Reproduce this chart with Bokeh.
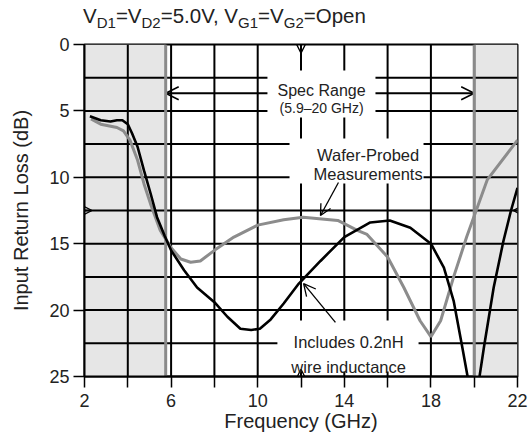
import numpy as np
from bokeh.plotting import figure
from bokeh.layouts import column
from bokeh.models import Range1d, FixedTicker, Label, Arrow, OpenHead, Div
from bokeh.embed import file_html
from bokeh.resources import INLINE

# ---- data ----
freq_incl = [2.25, 2.75, 3.2, 3.5, 3.75, 4.0, 4.2, 4.45, 4.75, 5.05, 5.35, 5.7,
             6.0, 6.6, 7.2, 8.0, 8.6, 9.2, 9.7, 10.1, 10.6, 11.2, 11.9, 12.9,
             14.0, 15.2, 16.1, 17.05, 18.0, 18.6, 19.05, 19.45, 19.75, 20.2,
             20.45, 20.9, 21.35, 21.7, 22.0]
rl_incl = [5.4, 5.7, 5.8, 5.7, 5.7, 6.0, 6.7, 7.7, 9.5, 11.2, 13.0, 14.4,
           15.5, 17.0, 18.3, 19.4, 20.5, 21.4, 21.5, 21.4, 20.7, 19.5, 18.0, 16.3,
           14.5, 13.4, 13.25, 13.8, 15.0, 16.8, 19.3, 22.8, 25.5, 25.5,
           22.8, 18.3, 14.8, 12.5, 10.8]

freq_wafer = [2.3, 2.75, 3.5, 3.8, 4.1, 4.45, 4.75, 5.05, 5.5, 6.0, 6.45, 6.9,
              7.35, 8.0, 8.9, 10.0, 11.2, 12.1, 13.7, 14.6, 15.05, 16.0, 16.75,
              17.5, 18.0, 18.45, 19.05, 19.65, 20.6, 22.0]
rl_wafer = [5.6, 6.0, 6.25, 6.5, 7.2, 8.7, 10.5, 12.0, 14.0, 15.3, 16.15, 16.4,
            16.3, 15.5, 14.5, 13.6, 13.2, 13.0, 13.25, 14.0, 14.3, 16.0, 18.3,
            20.8, 22.0, 20.8, 17.5, 14.5, 10.2, 7.2]

x_ticks = [2, 6, 10, 14, 18, 22]
x_minor = [4, 8, 12, 16, 20]
y_ticks = [0, 5, 10, 15, 20, 25]
x_grid = [4, 6, 8, 10, 12, 14, 16, 18, 20]
y_grid = [2.5, 5, 7.5, 10, 12.5, 15, 17.5, 20, 22.5]
spec_lo, spec_hi = 5.75, 20.0
x_min, x_max = 2, 22
y_min, y_max = 0, 25

FONT = "Liberation Sans"
TXT = "#222222"

title_html = (
    '<div style="padding:6px 0 0 83px; font-family:\'Liberation Sans\'; font-size:20.5px; '
    'line-height:20px; color:#222222; white-space:nowrap;">'
    'V<sub style="font-size:15px">D1</sub>=V<sub style="font-size:15px">D2</sub>=5.0V, '
    'V<sub style="font-size:15px">G1</sub>=V<sub style="font-size:15px">G2</sub>=Open</div>'
)
title = Div(text=title_html, width=528, height=30, margin=(0, 0, 0, 0))

p = figure(width=528, height=408, output_backend="svg", toolbar_location=None,
           x_range=Range1d(x_min, x_max), y_range=Range1d(y_max, y_min),
           min_border_left=84, min_border_right=11, min_border_top=14,
           min_border_bottom=62, margin=(0, 0, 0, 0))
p.grid.visible = False
p.outline_line_color = "black"
p.outline_line_width = 2
p.background_fill_color = "white"
p.border_fill_color = "white"

for ax in (p.xaxis[0], p.yaxis[0]):
    ax.axis_line_color = "black"
    ax.axis_line_width = 2
    ax.major_tick_line_color = "black"
    ax.major_tick_line_width = 1.5
    ax.major_tick_out = 11
    ax.major_tick_in = 0
    ax.major_label_text_font = FONT
    ax.major_label_text_font_size = "18px"
    ax.major_label_text_color = TXT
    ax.axis_label_text_font = FONT
    ax.axis_label_text_font_size = "20px"
    ax.axis_label_text_font_style = "normal"
    ax.axis_label_text_color = TXT
p.xaxis.axis_label = "Frequency (GHz)"
p.yaxis.axis_label = "Input Return Loss (dB)"
p.xaxis.ticker = FixedTicker(ticks=x_ticks, minor_ticks=x_minor)
p.xaxis.minor_tick_out = 11
p.xaxis.minor_tick_in = 0
p.xaxis.minor_tick_line_color = "black"
p.xaxis.minor_tick_line_width = 1.5
p.xaxis.major_label_standoff = 6
p.xaxis.axis_label_standoff = 0
p.yaxis.ticker = FixedTicker(ticks=y_ticks, minor_ticks=[])
p.yaxis.minor_tick_line_color = None
p.yaxis.major_label_standoff = 4
p.yaxis.axis_label_standoff = 14

# shaded out-of-spec regions
p.quad(left=[x_min, spec_hi], right=[spec_lo, x_max], top=[y_min, y_min],
       bottom=[y_max, y_max], fill_color="#e6e6e6", line_color=None)

# grid
p.segment(x0=x_grid, x1=x_grid, y0=[y_min] * len(x_grid), y1=[y_max] * len(x_grid),
          line_color="black", line_width=2)
p.segment(x0=[x_min] * len(y_grid), x1=[x_max] * len(y_grid), y0=y_grid, y1=y_grid,
          line_color="black", line_width=2)

# spec-range boundaries
p.segment(x0=[spec_lo, spec_hi], x1=[spec_lo, spec_hi], y0=[y_min, y_min],
          y1=[y_max, y_max], line_color="#8a8a8a", line_width=3)

# spec range double arrow (underneath the label boxes)
p.add_layout(Arrow(start=OpenHead(size=13, line_width=1.5), end=OpenHead(size=13, line_width=1.5),
                   x_start=spec_lo, y_start=3.67, x_end=spec_hi, y_end=3.67,
                   line_width=2, line_color="black", level="underlay"))

# white label boxes (mask the grid)
p.quad(left=[10.45, 11.47, 10.91], right=[15.44, 17.66, 17.43],
       top=[1.96, 7.08, 20.78], bottom=[5.5, 10.47, 24.62],
       fill_color="white", line_color=None)

# curves
p.line(freq_wafer, rl_wafer, line_color="#8c8c8c", line_width=3)
p.line(freq_incl, rl_incl, line_color="black", line_width=2.6)

# annotation arrows
p.add_layout(Arrow(end=OpenHead(size=11, line_width=1.3), x_start=13.73, y_start=10.39,
                   x_end=12.9, y_end=12.88, line_width=1.3, line_color="black"))
p.add_layout(Arrow(end=OpenHead(size=12, line_width=1.3), x_start=13.59, y_start=20.93,
                   x_end=12.12, y_end=18.0, line_width=1.3, line_color="black"))

# centre markers on frame edges
for xs, ys, xe, ye in [(12, 0, 12, 0.65), (12, 25, 12, 24.45),
                       (2, 12.5, 2.35, 12.5), (22, 12.5, 21.8, 12.5)]:
    p.add_layout(Arrow(end=OpenHead(size=9, line_width=1.3), x_start=xs, y_start=ys,
                       x_end=xe, y_end=ye, line_width=1.3, line_color="black"))


def lab(x, y, text, size):
    p.add_layout(Label(x=x, y=y, text=text, text_font=FONT, text_font_size=size,
                       text_align="center", text_baseline="alphabetic", text_color=TXT))


lab(12.95, 3.45, "Spec Range", "16px")
lab(12.95, 4.75, "(5.9–20 GHz)", "14px")
lab(15.1, 8.3, "Wafer-Probed", "16.5px")
lab(15.1, 9.72, "Measurements", "16.5px")
lab(14.2, 22.4, "Includes 0.2nH", "16.5px")
lab(14.2, 24.3, "wire inductance", "16.5px")

layout = column(title, p, spacing=0, margin=(0, 0, 0, 0))
open("out.html", "w").write(file_html(layout, INLINE))
